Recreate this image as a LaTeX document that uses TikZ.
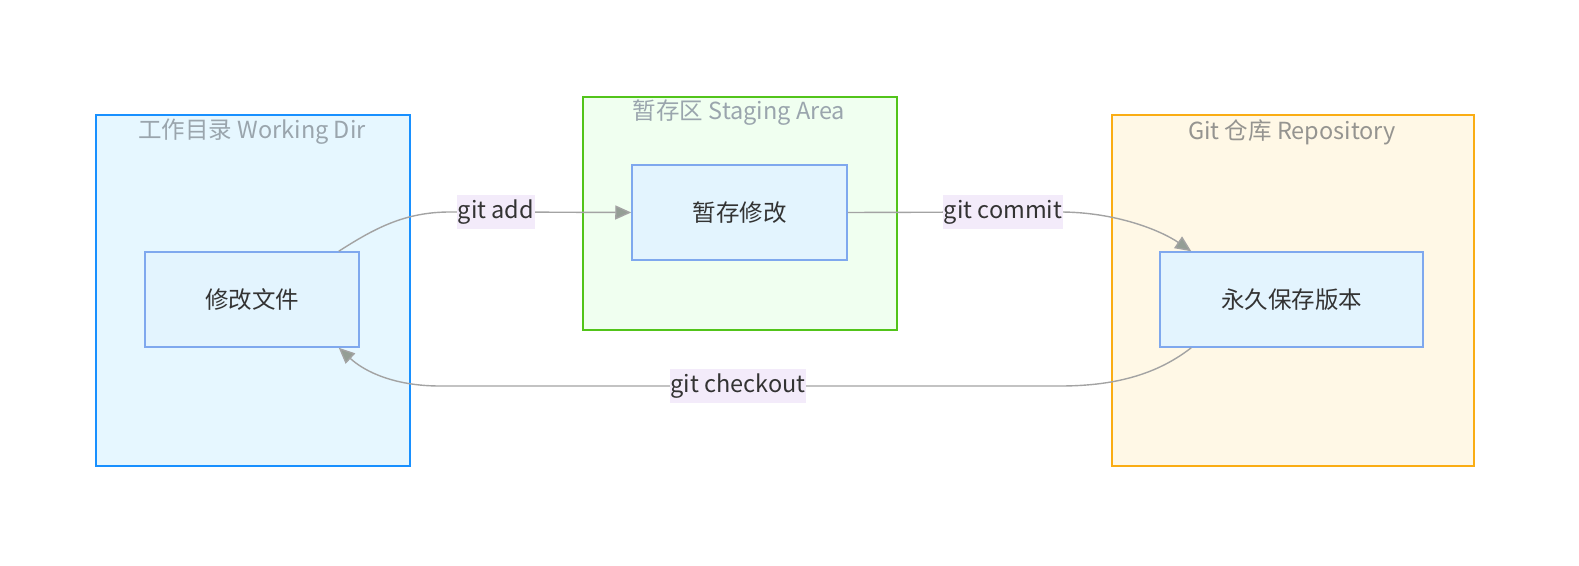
\documentclass[tikz,border=0pt]{standalone}
\usepackage{fontspec}
\setmainfont{Noto Sans CJK SC}
\usepackage{tikz}
\usetikzlibrary{arrows.meta,positioning,calc}

\definecolor{wdfill}{HTML}{E6F7FF}
\definecolor{wdline}{HTML}{1890FF}
\definecolor{sgfill}{HTML}{F0FFF0}
\definecolor{sgline}{HTML}{52C41A}
\definecolor{rpfill}{HTML}{FFF8E6}
\definecolor{rpline}{HTML}{FAAD14}
\definecolor{nodefill}{HTML}{E3F4FE}
\definecolor{nodeline}{HTML}{7FA8EE}
\definecolor{titlegray}{HTML}{9AA5AD}
\definecolor{edgegray}{HTML}{A3A3A3}
\definecolor{tipgray}{HTML}{949E95}
\definecolor{lblfill}{HTML}{F3EBFA}
\definecolor{textdark}{HTML}{333333}

\begin{document}
\begin{tikzpicture}[x=1pt,y=-1pt,
  font=\fontsize{23.5}{27}\selectfont,
  area/.style={draw,line width=1.6pt,anchor=north west,inner sep=0pt},
  title/.style={text=titlegray,anchor=center},
  step box/.style={draw=nodeline,fill=nodefill,line width=1.5pt,text=textdark,minimum height=95pt,inner sep=0pt},
  edge/.style={draw=edgegray,line width=1.4pt,-{Triangle[length=16pt,width=14pt,fill=tipgray]}},
  lbl/.style={fill=lblfill,text=textdark,inner xsep=1pt,inner ysep=0pt,minimum height=34pt}]
\useasboundingbox (0,0) rectangle (1579,565);

% areas
\node[area,draw=wdline,fill=wdfill,minimum width=314pt,minimum height=351pt] (wd) at (95,114) {};
\node[area,draw=sgline,fill=sgfill,minimum width=314pt,minimum height=233pt] (sg) at (582,96) {};
\node[area,draw=rpline,fill=rpfill,minimum width=362pt,minimum height=351pt] (rp) at (1111,114) {};
\node[title] at (252,132) {工作目录 Working Dir};
\node[title] at (739,113) {暂存区 Staging Area};
\node[title,text=titlegray!90!orange!60!gray] at (1292,132) {Git 仓库 Repository};

% steps
\node[step box,minimum width=214pt] (mod) at (252,299.5) {修改文件};
\node[step box,minimum width=215pt] (stage) at (739.5,212.5) {暂存修改};
\node[step box,minimum width=263pt] (repo) at (1291.5,299.5) {永久保存版本};

% connectors
\draw[edge] ($(mod.north east)+(-21,0)$) .. controls (375,228) and (405,212) .. (450,212)
  -- (496,212) node[lbl] {git add} -- (stage.west);
\draw[edge] (stage.east) -- (1003,212) node[lbl] {git commit} -- (1060,212)
  .. controls (1115,212) and (1160,230) .. ($(repo.north west)+(32,0)$);
\draw[edge] ($(repo.south west)+(32,0)$) .. controls (1160,372) and (1120,386) .. (1060,386)
  -- (738,386) node[lbl] {git checkout} -- (440,386)
  .. controls (395,386) and (365,372) .. ($(mod.south east)+(-21,0)$);
\end{tikzpicture}
\end{document}
